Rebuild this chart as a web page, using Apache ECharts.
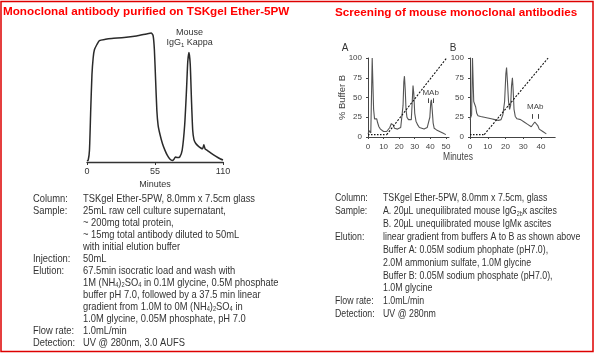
<!DOCTYPE html>
<html><head><meta charset="utf-8">
<script src="https://cdn.jsdelivr.net/npm/echarts@6/dist/echarts.min.js"></script>
<style>html,body{margin:0;padding:0;background:#fff}#c{width:596px;height:355px}</style>
</head><body><div id="c"></div><script>
// ---------- DATA ----------
// Left chromatogram (Minutes, relative absorbance)
const leftTime  = [0,1,2,3,4,5,6,8,10,15,20,30,40,48,52,53.5,54.5,55.5,56.5,57.5,59,61,63,65,67,69,70.5,71.5,73,75,77,79,80.5,81.5,82.5,83.5,84.5,85.5,86.5,88,90,92,93.5,94.5,95.5,97,100,104,108,110];
const leftValue = [0.8,1.5,9,39,66,79,85,89,92,93,93.6,94.3,95.5,97,97.7,95.5,85,62,39,28,21,14,9,5,2.3,1.1,2.3,3.8,3.4,3.8,9,28,55,76,83,74,47,24,17,14,12,10.6,10,13,10,9,7,4.5,2.3,1.5];
const leftTicks = [0,55,110];

// Panel A (Minutes, signal) and gradient (% Buffer B)
const aTime  = [0,1,1.8,2.4,2.7,3.3,3.6,4.2,5,5.6,6.2,7,8,9,10,11,12,13,14,15,15.6,16.3,17,18,19,20,21,21.8,22.5,23,23.4,23.9,24.4,25,26,27,27.8,28.4,28.9,29.4,30,30.8,32,33,34,36,38,39,39.7,40.3,40.7,41.2,41.8,42.5,44,46,48,50];
const aValue = [4,8,5,6,100,100,35,23,22,23,18,13,10,8,7,7,7,8,12,17,18,15,11,10,10,11,12,14,40,70,77,60,35,25,22,21,22,45,65,55,30,20,15,12,10,10,12,13,25,44,47,35,18,11,9,7,5,3];
const aGradFlat = [[0,3],[12,3]];
const aGradRamp = [[12,3],[50.5,100]];

// Panel B
const bTime  = [0,0.5,0.9,1.2,1.4,1.9,2.1,2.5,2.8,3.2,3.8,4.5,6,8,10,12,14,16,17.5,18.5,19.5,20.2,20.6,21.1,21.7,22.3,22.9,23.4,23.9,24.3,24.8,25.5,26.5,27.5,28.5,29.5,30.5,31.5,32.5,33.5,34.5,35.5,36.5,37,37.6,38.3,39,40,41,42,43];
const bValue = [22,24,28,30,100,100,45,44,47,38,30,27,26,25,24,23,22,21,22,28,45,80,88,70,45,35,40,65,75,60,35,26,23,22,22,20,19,18,16,14,13,14,19,21,20,14,10,9,7,5,4];
const bGradFlat = [[0,3],[8,3]];
const bGradRamp = [[8,3],[44,100]];

const rightYTicks = [0,25,50,75,100];

// Annotations
const mouseLabel = {time: 83, value: 94};
const mabA = {label:[40.2, 56], ticks:[38.5, 41.7], tickRange:[43, 49]};
const mabB = {label:[36.8, 38], ticks:[35, 38.3], tickRange:[23, 29]};

// Texts
const leftTitle = 'Monoclonal antibody purified on TSKgel Ether-5PW';
const rightTitle = 'Screening of mouse monoclonal antibodies';
const leftLabels = ['Column:','Sample:','','','','Injection:','Elution:','','','','','Flow rate:','Detection:'];
const leftValues = [
 'TSKgel Ether-5PW, 8.0mm x 7.5cm glass',
 '25mL raw cell culture supernatant,',
 '~ 200mg total protein,',
 '~ 15mg total antibody diluted to 50mL',
 'with initial elution buffer',
 '50mL',
 '67.5min isocratic load and wash with',
 '1M (NH{s|4}){s|2}SO{s|4} in 0.1M glycine, 0.5M phosphate',
 'buffer pH 7.0, followed by a 37.5 min linear',
 'gradient from 1.0M to 0M (NH{s|4}){s|2}SO{s|4} in',
 '1.0M glycine, 0.05M phosphate, pH 7.0',
 '1.0mL/min',
 'UV @ 280nm, 3.0 AUFS'];
const rightLabels = ['Column:','Sample:','','Elution:','','','','','Flow rate:','Detection:'];
const rightValues = [
 'TSKgel Ether-5PW, 8.0mm x 7.5cm, glass',
 'A. 20µL unequilibrated mouse IgG{s|2b}κ ascites',
 'B. 20µL unequilibrated mouse IgMκ ascites',
 'linear gradient from buffers A to B as shown above',
 'Buffer A: 0.05M sodium phophate (pH7.0),',
 '2.0M ammonium sulfate, 1.0M glycine',
 'Buffer B: 0.05M sodium phosphate (pH7.0),',
 '1.0M glycine',
 '1.0mL/min',
 'UV @ 280nm'];

// ---------- CHART ----------
const SANS = "'Liberation Sans',Arial,sans-serif";
const TXT = '#333';
const zip = (t, v) => t.map((x, i) => [x, v[i]]);
const subRich = (fs) => ({s: {fontSize: fs, fontFamily: SANS, fill: TXT, color: TXT, verticalAlign: 'bottom', lineHeight: 5}});

function rightX(idx, max) {
  return {gridIndex: idx, type: 'value', min: 0, max: max, interval: 10, offset: 3,
    axisLine: {lineStyle: {color: '#444', width: 1}},
    axisTick: {length: 2, lineStyle: {color: '#444'}},
    axisLabel: {fontSize: 8, fontFamily: SANS, color: '#444', margin: 3, showMaxLabel: false},
    splitLine: {show: false}};
}
function rightY(idx, name) {
  return {gridIndex: idx, type: 'value', min: rightYTicks[0], max: rightYTicks[rightYTicks.length-1], interval: 25, offset: 3,
    axisLine: {show: true, lineStyle: {color: '#444', width: 1}},
    axisTick: {show: true, length: 2, lineStyle: {color: '#444'}},
    axisLabel: {fontSize: 8, fontFamily: SANS, color: '#444', margin: 3},
    splitLine: {show: false},
    name: name, nameLocation: 'middle', nameGap: 18, nameRotate: 90, nameMoveOverlap: false,
    nameTextStyle: {fontSize: 9.5, fontFamily: SANS, color: '#444'}};
}
function mab(m) {
  return {
    markLine: {silent: true, symbol: ['none','none'], animation: false, label: {show: false},
      lineStyle: {color: '#444', type: 'solid', width: 1},
      data: m.ticks.map(t => [{coord: [t, m.tickRange[0]]}, {coord: [t, m.tickRange[1]]}])},
    markPoint: {silent: true, animation: false, symbol: 'circle', symbolSize: 0.1,
      data: [{coord: m.label, label: {show: true, position: 'inside', formatter: 'MAb', fontSize: 8, fontFamily: SANS, color: '#444'}}]}
  };
}
function textBlock(x, y, lines, lh, fs, sx) {
  return {type: 'text', x: x, y: y, scaleX: sx, silent: true,
    style: {text: lines.join('\n'), fontSize: fs, fontFamily: SANS, fill: TXT, lineHeight: lh,
      textAlign: 'left', textVerticalAlign: 'top', rich: subRich(7)}};
}

const chart = echarts.init(document.getElementById('c'), null, {renderer: 'canvas'});
chart.setOption({
  animation: false,
  backgroundColor: '#fff',
  grid: [
    {left: 87, top: 30, width: 136, height: 132},
    {left: 368, top: 58, width: 81, height: 79},
    {left: 470, top: 58, width: 85.2, height: 79}
  ],
  xAxis: [
    {gridIndex: 0, type: 'value', min: leftTicks[0], max: leftTicks[2], interval: leftTicks[1]-leftTicks[0],
      axisLine: {lineStyle: {color: '#333', width: 1.3}},
      axisTick: {length: 3, lineStyle: {color: '#333'}},
      axisLabel: {fontSize: 9, fontFamily: SANS, color: '#333', margin: 5},
      splitLine: {show: false},
      name: 'Minutes', nameLocation: 'middle', nameGap: 18, nameMoveOverlap: false,
      nameTextStyle: {fontSize: 9, fontFamily: SANS, color: '#333'}},
    rightX(1, 52),
    rightX(2, 48)
  ],
  yAxis: [
    {gridIndex: 0, type: 'value', min: 0, max: 100, show: false},
    rightY(1, '% Buffer B'),
    rightY(2, '')
  ],
  series: [
    Object.assign({type: 'line', xAxisIndex: 0, yAxisIndex: 0, data: zip(leftTime, leftValue),
      showSymbol: false, smooth: 0.2, lineStyle: {color: '#2a2a2a', width: 1.5}},
      {markPoint: {silent: true, animation: false, symbol: 'circle', symbolSize: 0.1,
        data: [{coord: [mouseLabel.time, mouseLabel.value], label: {show: true, position: 'inside',
          formatter: 'Mouse\nIgG{s|1} Kappa', fontSize: 9, lineHeight: 10, fontFamily: SANS, color: '#333',
          rich: {s: {fontSize: 6, fontFamily: SANS, color: '#333', verticalAlign: 'bottom', lineHeight: 4}}}}]}}),
    Object.assign({type: 'line', xAxisIndex: 1, yAxisIndex: 1, data: zip(aTime, aValue),
      showSymbol: false, lineStyle: {color: '#555', width: 1.1}}, mab(mabA)),
    {type: 'line', xAxisIndex: 1, yAxisIndex: 1, data: aGradFlat, showSymbol: false,
      lineStyle: {color: '#111', width: 1.2, type: [1.5, 1.5]}},
    {type: 'line', xAxisIndex: 1, yAxisIndex: 1, data: aGradRamp, showSymbol: false,
      lineStyle: {color: '#111', width: 1.1, type: [2, 1.5]}},
    Object.assign({type: 'line', xAxisIndex: 2, yAxisIndex: 2, data: zip(bTime, bValue),
      showSymbol: false, lineStyle: {color: '#555', width: 1.1}}, mab(mabB)),
    {type: 'line', xAxisIndex: 2, yAxisIndex: 2, data: bGradFlat, showSymbol: false,
      lineStyle: {color: '#111', width: 1.2, type: [1.5, 1.5]}},
    {type: 'line', xAxisIndex: 2, yAxisIndex: 2, data: bGradRamp, showSymbol: false,
      lineStyle: {color: '#111', width: 1.1, type: [2, 1.5]}}
  ],
  graphic: [
    {type: 'rect', silent: true, shape: {x: 1, y: 1.5, width: 592, height: 350},
      style: {fill: 'none', stroke: '#dd0000', lineWidth: 1.5}},
    {type: 'text', x: 3, y: 12, silent: true, style: {text: leftTitle, fontSize: 11.7, fontWeight: 'bold',
      fontFamily: SANS, fill: '#ff0000', textAlign: 'left', textVerticalAlign: 'middle'}},
    {type: 'text', x: 335, y: 13, silent: true, style: {text: rightTitle, fontSize: 11.7, fontWeight: 'bold',
      fontFamily: SANS, fill: '#ff0000', textAlign: 'left', textVerticalAlign: 'middle'}},
    {type: 'text', x: 345, y: 48, silent: true, style: {text: 'A', fontSize: 10, fontFamily: SANS, fill: '#333', textAlign: 'center', textVerticalAlign: 'middle'}},
    {type: 'text', x: 453, y: 48, silent: true, style: {text: 'B', fontSize: 10, fontFamily: SANS, fill: '#333', textAlign: 'center', textVerticalAlign: 'middle'}},
    {type: 'text', x: 458, y: 157, scaleX: 0.85, silent: true, style: {text: 'Minutes', fontSize: 10, fontFamily: SANS, fill: '#444', textAlign: 'center', textVerticalAlign: 'middle'}},
    textBlock(33, 193, leftLabels, 12, 11.5, 0.813),
    textBlock(83, 193, leftValues, 12, 11.5, 0.813),
    textBlock(335, 191.5, rightLabels, 12.9, 11.5, 0.765),
    textBlock(383, 191.5, rightValues, 12.9, 11.5, 0.765)
  ]
});
</script></body></html>
